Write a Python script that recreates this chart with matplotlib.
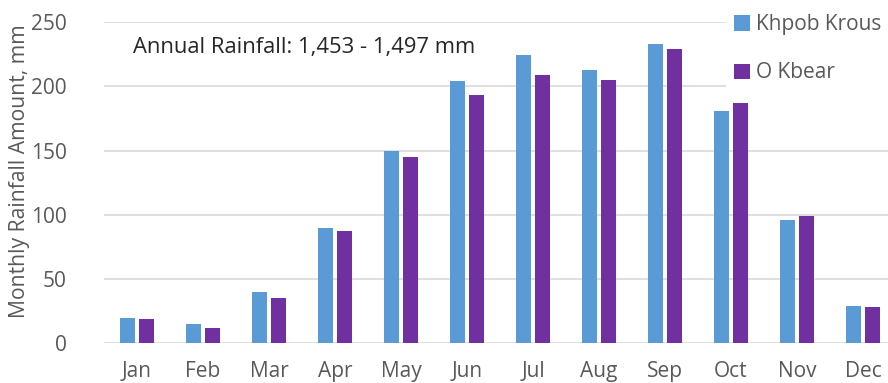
import matplotlib
matplotlib.use("Agg")
import matplotlib.pyplot as plt
import numpy as np

months = ["Jan", "Feb", "Mar", "Apr", "May", "Jun", "Jul", "Aug", "Sep", "Oct", "Nov", "Dec"]
khpob_krous = [20, 15, 40, 90, 149.5, 204, 224, 213, 233, 181, 96, 29]
o_kbear = [19, 12, 35, 87, 145, 193, 209, 205, 229, 187, 99, 28.5]
series_names = ["Khpob Krous", "O Kbear"]
y_ticks = [0, 50, 100, 150, 200, 250]
annotation = "Annual Rainfall: 1,453 - 1,497 mm"

plt.rcParams["font.family"] = ["Open Sans", "DejaVu Sans"]
FS = 15

W, H = 888, 383
fig = plt.figure(figsize=(W / 100, H / 100), dpi=100)
left, right = 104 / W, 896 / W
bottom, top = (H - 343.3) / H, (H - 22) / H
ax = fig.add_axes([left, bottom, right - left, top - bottom])

x = np.arange(len(months))
bw = 0.23
off = 0.145
ax.bar(x - off, khpob_krous, bw, color="#5B9BD5", label=series_names[0], zorder=3)
ax.bar(x + off, o_kbear, bw, color="#7030A0", label=series_names[1], zorder=3)

ax.set_xlim(-0.5, len(months) - 0.5)
ax.set_ylim(0, 250)
ax.set_yticks(y_ticks)
ax.set_xticks(x)
ax.set_xticklabels(months)
ax.tick_params(axis="both", length=0, labelsize=FS, colors="#595959")
ax.tick_params(axis="x", pad=13)
ax.tick_params(axis="y", pad=27)
ax.grid(axis="y", color="#D9D9D9", linewidth=1.2, zorder=0)
for s in ax.spines.values():
    s.set_visible(False)

ax.set_ylabel("Monthly Rainfall Amount, mm", fontsize=15.2, color="#595959")
ax.yaxis.set_label_coords(-74 / (W * (right - left)), 0.535)

ax.text(133 / W, (H - 48) / H, annotation, transform=fig.transFigure,
        fontsize=15.8, color="#262626", va="center", ha="left")

leg = fig.legend(loc="upper left", bbox_to_anchor=(726 / W, 1 - 6 / H),
                 frameon=True, fontsize=FS, handlelength=0.75, handleheight=0.75,
                 handletextpad=0.3, labelspacing=1.3, borderpad=0.4,
                 borderaxespad=0)
leg.get_frame().set_facecolor("white")
leg.get_frame().set_edgecolor("none")
leg.get_frame().set_alpha(1)
for t in leg.get_texts():
    t.set_color("#595959")

fig.savefig("out.png", dpi=100)
